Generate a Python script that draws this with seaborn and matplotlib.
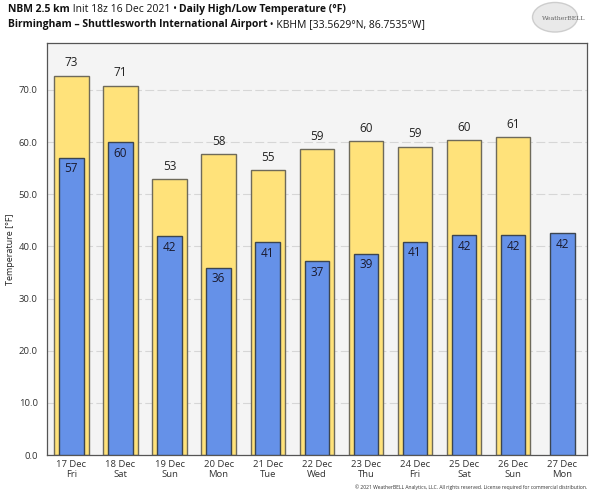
import seaborn as sns
import matplotlib.pyplot as plt
import pandas as pd
import numpy as np
from matplotlib.ticker import FormatStrFormatter, MultipleLocator
from matplotlib.patches import Ellipse

dates = ["17 Dec", "18 Dec", "19 Dec", "20 Dec", "21 Dec", "22 Dec",
         "23 Dec", "24 Dec", "25 Dec", "26 Dec", "27 Dec"]
weekdays = ["Fri", "Sat", "Sun", "Mon", "Tue", "Wed", "Thu", "Fri", "Sat", "Sun", "Mon"]
highs = [72.7, 70.8, 52.9, 57.7, 54.6, 58.7, 60.2, 59.1, 60.3, 61.0, np.nan]
lows = [57.0, 60.0, 41.9, 35.9, 40.8, 37.1, 38.6, 40.9, 42.1, 42.1, 42.5]

labels = [f"{d}\n{w}" for d, w in zip(dates, weekdays)]
df = pd.DataFrame({"day": labels, "high": highs, "low": lows})

sns.set_style("white")
plt.rcParams["font.family"] = ["Open Sans", "DejaVu Sans"]

fig = plt.figure(figsize=(6, 4.93), dpi=100)
ax = fig.add_axes([0.078, 0.077, 0.9, 0.836])
ax.set_facecolor("#f4f4f4")

sns.barplot(data=df, x="day", y="high", order=labels, color="#ffe27a",
            saturation=1, width=0.7, edgecolor="#6e6a5a", linewidth=1.0, ax=ax, zorder=2)
sns.barplot(data=df, x="day", y="low", order=labels, color="#6591e8",
            saturation=1, width=0.5, edgecolor="#3c4550", linewidth=1.0, ax=ax, zorder=3)

for i, (h, l) in enumerate(zip(highs, lows)):
    if not np.isnan(h):
        ax.text(i, h + 1.2, f"{round(h):d}", ha="center", va="bottom", fontsize=8.5, color="#222222", zorder=4)
    ax.text(i, l - 0.9, f"{round(l):d}", ha="center", va="top", fontsize=8.5, color="#1a1a2e", zorder=4)

ax.set_xlim(-0.5, 10.5)
ax.set_ylim(0, 79)
ax.yaxis.set_major_locator(MultipleLocator(10))
ax.yaxis.set_major_formatter(FormatStrFormatter("%.1f"))
ax.grid(axis="y", color="#d6d6d6", linestyle=(0, (8, 3)), linewidth=0.8, zorder=0)
ax.set_axisbelow(True)
ax.set_xlabel("")
ax.set_ylabel("Temperature [°F]", fontsize=6.5, color="#222222", labelpad=3)
ax.tick_params(axis="both", labelsize=6.8, colors="#333333", length=3, direction="out")
ax.tick_params(axis="x", length=0)
for s in ax.spines.values():
    s.set_color("#555555")
    s.set_linewidth(0.9)

# header text, written in pieces
fig.canvas.draw()
renderer = fig.canvas.get_renderer()

def write_line(parts, y):
    x = 0.013
    for txt, weight in parts:
        t = fig.text(x, y, txt, fontsize=7.5, fontweight=weight, color="#111111", va="center")
        bb = t.get_window_extent(renderer=renderer)
        x += bb.width / fig.bbox.width

write_line([("NBM 2.5 km", "bold"), (" Init 18z 16 Dec 2021 • ", "normal"),
            ("Daily High/Low Temperature (°F)", "bold")], 1 - 9 / 493)
write_line([("Birmingham – Shuttlesworth International Airport", "bold"),
            (" • KBHM [33.5629°N, 86.7535°W]", "normal")], 1 - 25 / 493)

# logo
fig.patches.append(Ellipse((0.925, 0.965), 0.075, 0.06, transform=fig.transFigure,
                           facecolor="#e4e4e4", edgecolor="#c4c4c4", alpha=0.8))
fig.text(0.94, 0.962, "WeatherBELL", fontsize=4.5, color="#666666", ha="center", va="center",
         family="DejaVu Serif")

fig.text(0.978, 0.012, "© 2021 WeatherBELL Analytics, LLC. All rights reserved. License required for commercial distribution.",
         fontsize=3.6, color="#333333", ha="right", va="center")

fig.savefig("out.png", dpi=100, facecolor="white")
